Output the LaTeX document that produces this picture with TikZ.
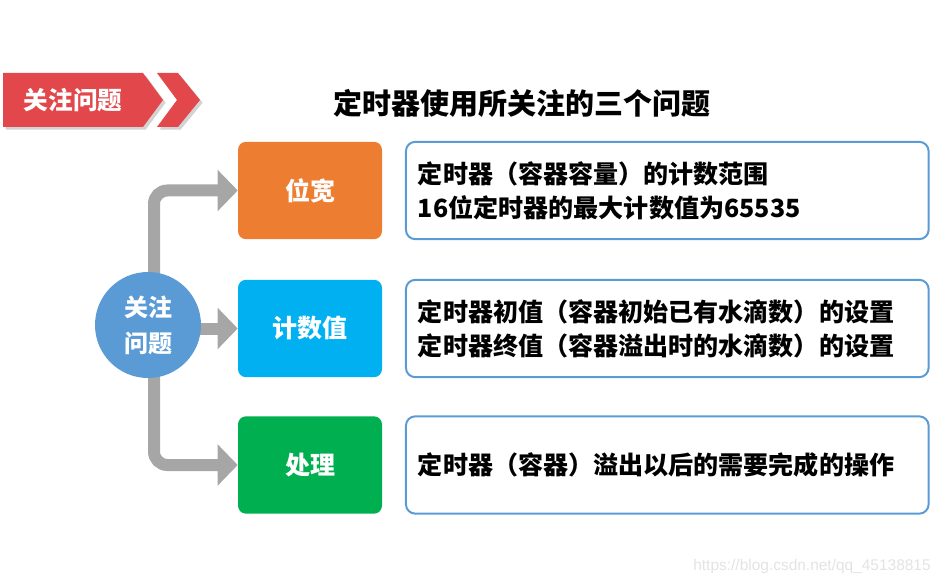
\documentclass[tikz,border=0pt]{standalone}
\usepackage{fontspec}
\usepackage{tikz}
\usetikzlibrary{arrows.meta, positioning, shadows}
\newfontfamily\cjk{Noto Sans CJK SC}
\newfontfamily\wmfont{Liberation Sans}
\definecolor{bannerred}{HTML}{E2484B}
\definecolor{widthorange}{HTML}{ED7D31}
\definecolor{countblue}{HTML}{00B0F0}
\definecolor{handlegreen}{HTML}{00B050}
\definecolor{hubblue}{HTML}{5B9BD5}
\definecolor{arrowgrey}{HTML}{A6A6A6}
\tikzset{
	labelbox/.style={rectangle, rounded corners=6pt, minimum width=108pt, minimum height=73pt, text=white, font=\cjk\bfseries\fontsize{18.75}{22}\selectfont},
	textbox/.style={rectangle, rounded corners=7pt, draw=hubblue, line width=1.5pt, fill=white, minimum height=73pt, text width=374pt, inner xsep=9pt, align=left, font=\cjk\bfseries\fontsize{18.8}{25.5}\selectfont},
	hub/.style={circle, fill=hubblue, minimum size=79.5pt, inner sep=0pt, text=white, align=center, font=\cjk\bfseries\fontsize{18}{27}\selectfont},
	fatarrow/.style={draw=arrowgrey, line width=9pt, rounded corners=10pt, -{Triangle[length=15pt, width=30pt]}}
}
\begin{document}
\begin{tikzpicture}[x=0.75pt, y=-0.75pt]
		\useasboundingbox (0,0) rectangle (944,584);
		% Banner
		\fill[bannerred, drop shadow={shadow xshift=2pt, shadow yshift=-2pt, opacity=0.35}] (3,73) -- (143,73) -- (163,100) -- (143,127) -- (3,127) -- cycle;
		\fill[bannerred, drop shadow={shadow xshift=2pt, shadow yshift=-2pt, opacity=0.35}] (157,73) -- (178,73) -- (200,100) -- (178,127) -- (157,127) -- (177,100) -- cycle;
		\node (bantxt) at (73,100) [text=white, font=\cjk\bfseries\fontsize{18.5}{20}\selectfont] {关注问题};
		\node (title) at (522,103) [font=\cjk\bfseries\fontsize{21.75}{24}\selectfont] {定时器使用所关注的三个问题};
		
		% Label boxes
		\node (wk) at (310,190.5) [labelbox, fill=widthorange] {位宽};
		\node (js) at (310,328.5) [labelbox, fill=countblue] {计数值};
		\node (cl) at (310,465) [labelbox, fill=handlegreen] {处理};
		
		% Text boxes
		\node (wkt) [textbox, right=17pt of wk] {定时器（容器容量）的计数范围\\16位定时器的最大计数值为65535};
		\node (jst) [textbox, right=17pt of js] {定时器初值（容器初始已有水滴数）的设置\\定时器终值（容器溢出时的水滴数）的设置};
		\node (clt) [textbox, right=17pt of cl] {定时器（容器）溢出以后的需要完成的操作};
		
		% Arrows
		\coordinate (hubc) at (148,325);
		\draw [fatarrow] ([xshift=4.5pt]hubc) |- (wk.west);
		\draw [fatarrow] (hubc |- js.west) -- (js.west);
		\draw [fatarrow] ([xshift=4.5pt]hubc) |- (cl.west);
		\node (hub) at (hubc) [hub] {关注\\问题};
		
		\node (wm) at (812,566) [text=gray!22, font=\wmfont\fontsize{11.6}{13}\selectfont] {https://blog.csdn.net/qq\_45138815};
	\end{tikzpicture}
\end{document}
